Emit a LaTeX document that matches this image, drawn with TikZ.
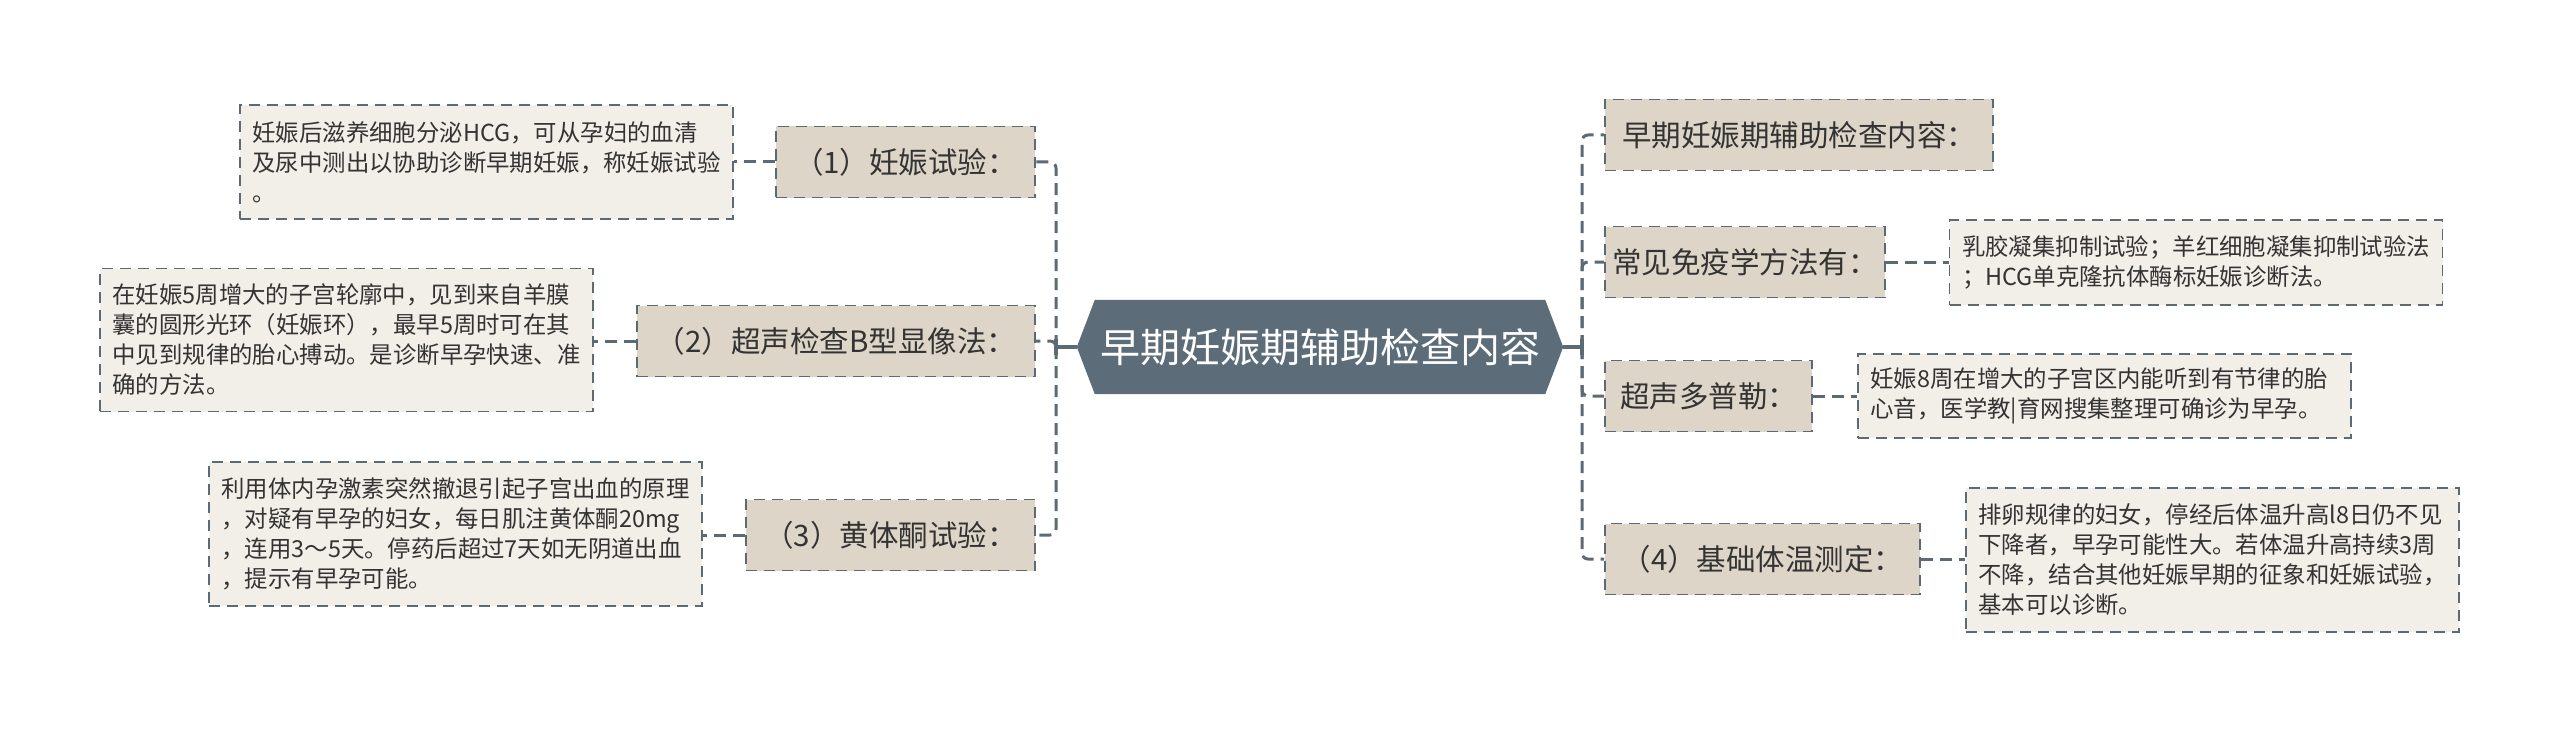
\documentclass[tikz,border=0pt]{standalone}
\usepackage{fontspec}
\setmainfont{Noto Sans CJK SC}
\usetikzlibrary{backgrounds}
\definecolor{lineC}{HTML}{5B6A73}
\definecolor{hexC}{HTML}{5C6D79}
\definecolor{lvC}{HTML}{DDD5C7}
\definecolor{descC}{HTML}{F2EEE8}
\definecolor{txtC}{HTML}{333333}
\newcommand\tailcolon{：\hspace{-0.4em}}
\begin{document}
\begin{tikzpicture}[x=1pt,y=-1pt,
  lvbox/.style={draw=lineC, fill=lvC, line width=1.8pt, dash pattern=on 11pt off 7pt,
    inner sep=0pt, text=txtC, font=\fontsize{29.5}{36}\selectfont, minimum height=71pt},
  descbox/.style={draw=lineC, fill=descC, line width=1.8pt, dash pattern=on 11pt off 7pt,
    inner xsep=12.5pt, inner ysep=0pt, text width=468pt, align=left, text=txtC,
    font=\fontsize{23.4}{30}\selectfont},
  conn/.style={draw=lineC, line width=3pt, dash pattern=on 12pt off 7pt, rounded corners=6pt},
  trunk/.style={draw=lineC, line width=3.5pt}]
\useasboundingbox (0,0) rectangle (2560,733);

% central topic
\node[text=white, font=\fontsize{40}{48}\selectfont, minimum width=450pt,
  minimum height=94pt, inner sep=0pt] (hex) at (1320,347) {早期妊娠期辅助检查内容};
\begin{scope}[on background layer]
\fill[white] (0,0) rectangle (2560,733);
\fill[hexC] (hex.north west) -- (hex.north east) -- ([xshift=18pt]hex.east)
  -- (hex.south east) -- (hex.south west) -- ([xshift=-18pt]hex.west) -- cycle;
\end{scope}

% left branches
\node[lvbox, minimum width=259pt] (L1) at (905.5,162) {（1）妊娠试验\tailcolon};
\node[lvbox, minimum width=398pt] (L2) at (836,341) {（2）超声检查B型显像法\tailcolon};
\node[lvbox, minimum width=289pt] (L3) at (890.5,535) {（3）黄体酮试验\tailcolon};

\node[descbox, minimum height=114pt] (D1) at (486.5,162) {妊娠后滋养细胞分泌HCG，可从孕妇的血清\\及尿中测出以协助诊断早期妊娠，称妊娠试验\\。};
\node[descbox, minimum height=143pt] (D2) at (346.5,340) {在妊娠5周增大的子宫轮廓中，见到来自羊膜\\囊的圆形光环（妊娠环），最早5周时可在其\\中见到规律的胎心搏动。是诊断早孕快速、准\\确的方法。};
\node[descbox, minimum height=144pt] (D3) at (455.5,534) {利用体内孕激素突然撤退引起子宫出血的原理\\，对疑有早孕的妇女，每日肌注黄体酮20mg\\，连用3～5天。停药后超过7天如无阴道出血\\，提示有早孕可能。};

% right branches
\node[lvbox, minimum width=388pt] (R1) at (1799,135) {早期妊娠期辅助检查内容\tailcolon};
\node[lvbox, minimum width=280pt] (R2) at (1745,262) {常见免疫学方法有\tailcolon};
\node[lvbox, minimum width=207pt] (R3) at (1708.5,396) {超声多普勒\tailcolon};
\node[lvbox, minimum width=315pt] (R4) at (1762.5,559) {（4）基础体温测定\tailcolon};

\node[descbox, minimum height=85pt] (RD2) at (2196,262.5) {乳胶凝集抑制试验；羊红细胞凝集抑制试验法\\；HCG单克隆抗体酶标妊娠诊断法。};
\node[descbox, minimum height=84pt] (RD3) at (2104.5,396) {妊娠8周在增大的子宫区内能听到有节律的胎\\心音，医学教|育网搜集整理可确诊为早孕。};
\node[descbox, minimum height=144pt] (RD4) at (2212.5,560) {排卵规律的妇女，停经后体温升高l8日仍不见\\下降者，早孕可能性大。若体温升高持续3周\\不降，结合其他妊娠早期的征象和妊娠试验，\\基本可以诊断。};

% spines
\coordinate (ls) at (1056,347);
\coordinate (rs) at (1582,347);
\draw[trunk] ([xshift=-18pt]hex.west) -- (ls);
\draw[trunk] ([xshift=18pt]hex.east) -- (rs);
\draw[trunk] ([yshift=-8pt]ls) -- ([yshift=8pt]ls);
\draw[trunk] ([yshift=-8pt]rs) -- ([yshift=8pt]rs);

\draw[conn] (ls) |- (L1.east);
\draw[conn] (ls) |- (L2.east);
\draw[conn] (ls) |- (L3.east);
\draw[conn] (rs) |- (R1.west);
\draw[conn] (rs) |- (R2.west);
\draw[conn] (rs) |- (R3.west);
\draw[conn] (rs) |- (R4.west);

\draw[conn] (L1.west) -- (L1.west -| D1.east);
\draw[conn] (L2.west) -- (L2.west -| D2.east);
\draw[conn] (L3.west) -- (L3.west -| D3.east);
\draw[conn] (R2.east) -- (R2.east -| RD2.west);
\draw[conn] (R3.east) -- (R3.east -| RD3.west);
\draw[conn] (R4.east) -- (R4.east -| RD4.west);
\end{tikzpicture}
\end{document}
